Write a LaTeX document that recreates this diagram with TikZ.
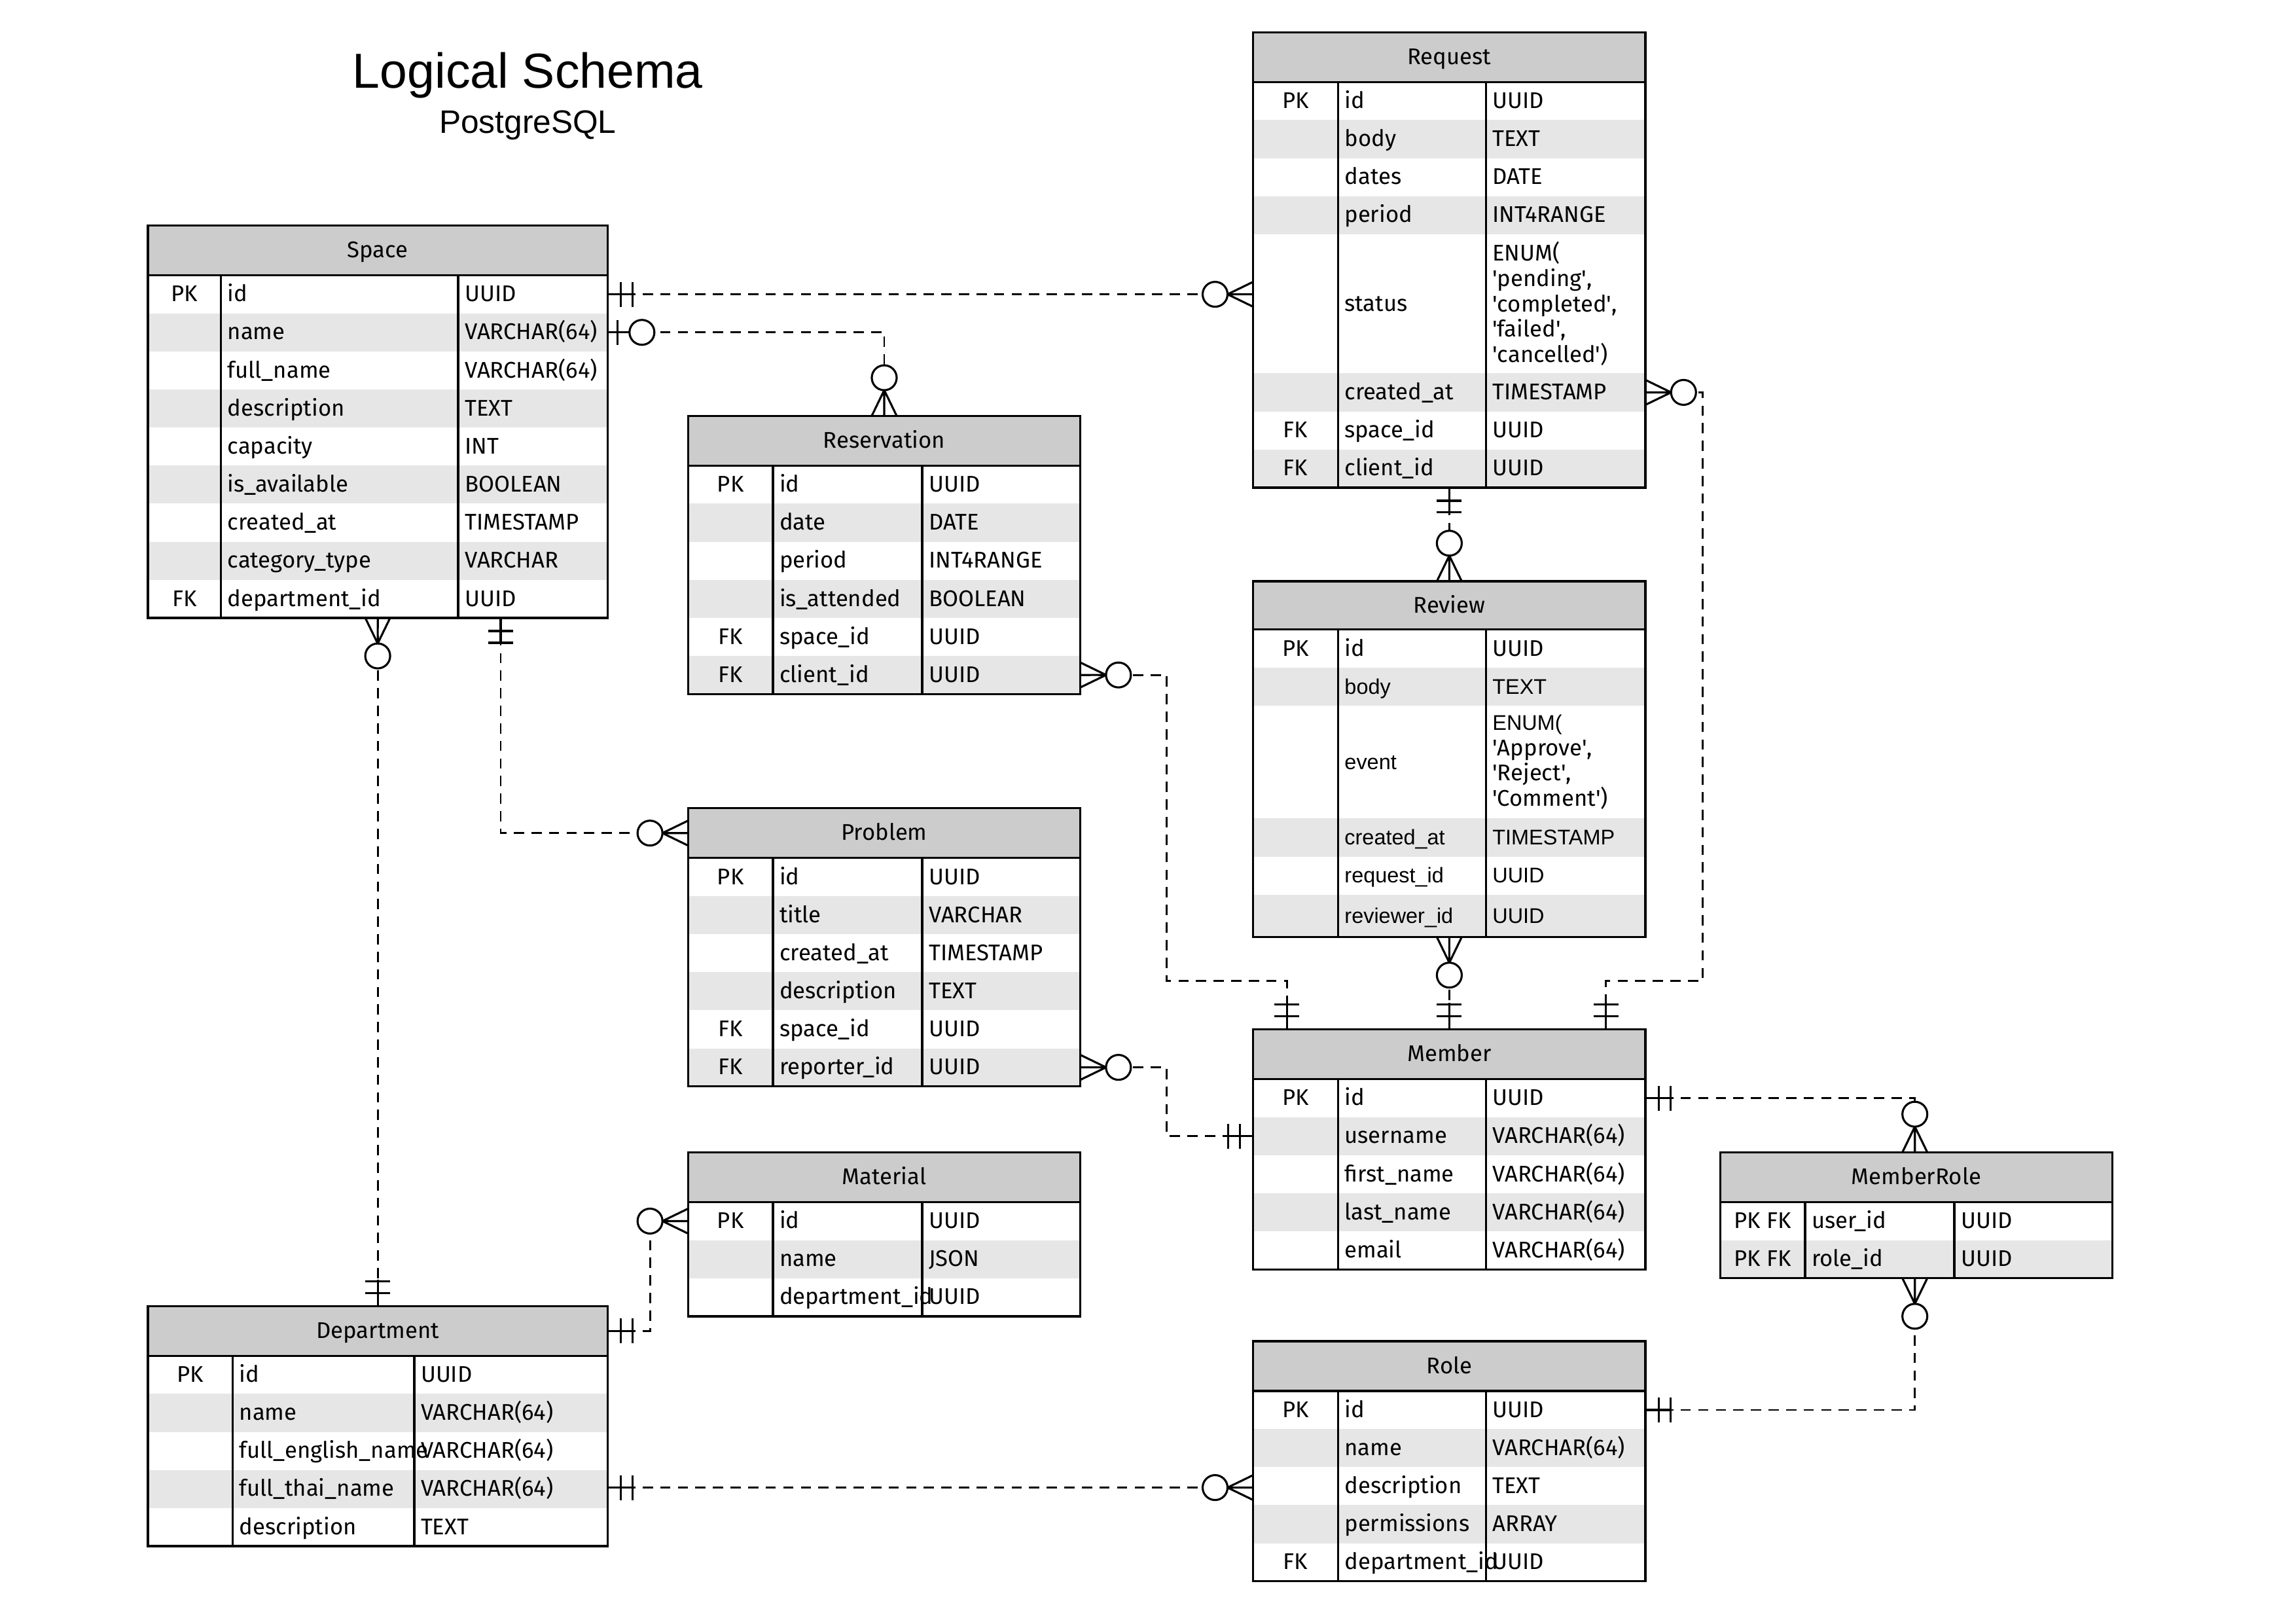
\documentclass[tikz,border=0pt]{standalone}
\usepackage{fontspec}
\setmainfont{Fira Sans}
\newfontfamily\arialfam{Liberation Sans}
\newfontfamily\titlefam{Liberation Sans}
\definecolor{hdrgray}{HTML}{CCCCCC}
\definecolor{rowgray}{HTML}{E6E6E6}
\newcommand\sqt{\textquotesingle}
\newcommand\cellfont{\fontsize{15.5}{17.3}\selectfont}
\newcommand\arialf{\arialfam\fontsize{14.5}{17.3}\selectfont}
\let\rowfont\relax
\newcommand\settable[5]{\def\tA{#1}\def\tB{#2}\def\tC{#3}\def\tD{#4}\def\tP{#5}}
\newcommand\ertitle[3]{%
  \fill[hdrgray] (\tA,#1) rectangle (\tD,#2);
  \node[cell,anchor=base] (\tP-title) at ({(\tA+\tD)/2},{(#1+#2)/2+5}) {#3};}
\newcommand\errow[7]{%
  \fill[#4] (\tA,#2) rectangle (\tD,#3);
  \node[cell,anchor=base] (\tP-#1-k) at ({(\tA+\tB)/2},{(#2+#3)/2+5}) {#5};
  \node[cell,anchor=base west] (\tP-#1-f) at ({\tB+4.5},{(#2+#3)/2+5}) {\rowfont #6};
  \node[cell,anchor=base west] (\tP-#1-t) at ({\tC+4.5},{(#2+#3)/2+5}) {\rowfont #7};}
\newcommand\errowml[6]{%
  \fill[#4] (\tA,#2) rectangle (\tD,#3);
  \node[cell,anchor=base west] (\tP-#1-f) at ({\tB+4.5},{(#2+#3)/2+5}) {\rowfont #5};
  \node[cell,anchor=west,align=left] (\tP-#1-t) at ({\tC+4.5},{(#2+#3)/2}) {\rowfont #6};}
\newcommand\erframe[3]{%
  \draw[tbl] (\tB,#2) -- (\tB,#3) (\tC,#2) -- (\tC,#3) (\tA,#2) -- (\tD,#2);
  \draw[tbl] (\tA,#1) rectangle (\tD,#3);}
\newcommand\mone[2]{%
  \begin{scope}[shift={(#1)},rotate=#2]
    \draw[ermark] (0,0) -- (18,0) (9,-8.5) -- (9,8.5) (17,-8.5) -- (17,8.5);
  \end{scope}}
\newcommand\mzone[2]{%
  \begin{scope}[shift={(#1)},rotate=#2]
    \draw[ermark] (0,0) -- (16,0) (7,-8.5) -- (7,8.5);
    \draw[ermark,fill=white] (23.5,0) circle (8.5pt);
  \end{scope}}
\newcommand\mzmany[2]{%
  \begin{scope}[shift={(#1)},rotate=#2]
    \draw[ermark] (0,-8.5) -- (17.5,0) -- (0,8.5) (0,0) -- (17.5,0);
    \draw[ermark,fill=white] (26,0) circle (8.5pt);
  \end{scope}}
\begin{document}
\begin{tikzpicture}[x=1pt,y=-1pt,
  cell/.style={inner sep=0pt,outer sep=0pt,font=\cellfont},
  tbl/.style={line width=1.5pt,line join=miter},
  conn/.style={line width=1.3pt,dash pattern=on 7pt off 5pt},
  ermark/.style={line width=1.4pt,solid}]
\useasboundingbox (0,0) rectangle (1567,1108.8);
\fill[white] (0,0) rectangle (1567,1108.8);
% title
\node[anchor=base,inner sep=0pt,font=\titlefam\fontsize{33.6}{40}\selectfont] (title) at (360.5,60) {Logical Schema};
\node[anchor=base,inner sep=0pt,font=\titlefam\fontsize{22.2}{26}\selectfont] (subtitle) at (360.5,91) {PostgreSQL};
% Space
\settable{101}{151}{313}{415}{space}
\ertitle{154}{188}{Space}
\errow{id}{188}{214}{white}{PK}{id}{UUID}
\errow{name}{214}{240}{rowgray}{}{name}{VARCHAR(64)}
\errow{fullname}{240}{266}{white}{}{full\_name}{VARCHAR(64)}
\errow{desc}{266}{292}{rowgray}{}{description}{TEXT}
\errow{cap}{292}{318}{white}{}{capacity}{INT}
\errow{avail}{318}{344}{rowgray}{}{is\_available}{BOOLEAN}
\errow{created}{344}{370}{white}{}{created\_at}{TIMESTAMP}
\errow{cat}{370}{396}{rowgray}{}{category\_type}{VARCHAR}
\errow{dept}{396}{422}{white}{FK}{department\_id}{UUID}
\erframe{154}{188}{422}
% Reservation
\settable{470}{528}{630}{738}{resv}
\ertitle{284}{318}{Reservation}
\errow{id}{318}{344}{white}{PK}{id}{UUID}
\errow{date}{344}{370}{rowgray}{}{date}{DATE}
\errow{period}{370}{396}{white}{}{period}{INT4RANGE}
\errow{att}{396}{422}{rowgray}{}{is\_attended}{BOOLEAN}
\errow{space}{422}{448}{white}{FK}{space\_id}{UUID}
\errow{client}{448}{474}{rowgray}{FK}{client\_id}{UUID}
\erframe{284}{318}{474}
% Problem
\settable{470}{528}{630}{738}{prob}
\ertitle{552}{586}{Problem}
\errow{id}{586}{612}{white}{PK}{id}{UUID}
\errow{title}{612}{638}{rowgray}{}{title}{VARCHAR}
\errow{created}{638}{664}{white}{}{created\_at}{TIMESTAMP}
\errow{desc}{664}{690}{rowgray}{}{description}{TEXT}
\errow{space}{690}{716}{white}{FK}{space\_id}{UUID}
\errow{rep}{716}{742}{rowgray}{FK}{reporter\_id}{UUID}
\erframe{552}{586}{742}
% Material
\settable{470}{528}{630}{738}{mat}
\ertitle{787}{821}{Material}
\errow{id}{821}{847}{white}{PK}{id}{UUID}
\errow{name}{847}{873}{rowgray}{}{name}{JSON}
\errow{dept}{873}{899}{white}{}{department\_id}{UUID}
\erframe{787}{821}{899}
% Department
\settable{101}{159}{283}{415}{dept}
\ertitle{892}{926}{Department}
\errow{id}{926}{952}{white}{PK}{id}{UUID}
\errow{name}{952}{978}{rowgray}{}{name}{VARCHAR(64)}
\errow{eng}{978}{1004}{white}{}{full\_english\_name}{VARCHAR(64)}
\errow{thai}{1004}{1030}{rowgray}{}{full\_thai\_name}{VARCHAR(64)}
\errow{desc}{1030}{1056}{white}{}{description}{TEXT}
\erframe{892}{926}{1056}
% Request
\settable{856}{914}{1015}{1124}{req}
\ertitle{22}{56}{Request}
\errow{id}{56}{82}{white}{PK}{id}{UUID}
\errow{body}{82}{108}{rowgray}{}{body}{TEXT}
\errow{dates}{108}{134}{white}{}{dates}{DATE}
\errow{period}{134}{160}{rowgray}{}{period}{INT4RANGE}
\errowml{status}{160}{255}{white}{status}{ENUM(\\\sqt pending\sqt,\\\sqt completed\sqt,\\\sqt failed\sqt,\\\sqt cancelled\sqt)}
\errow{created}{255}{281}{rowgray}{}{created\_at}{TIMESTAMP}
\errow{space}{281}{307}{white}{FK}{space\_id}{UUID}
\errow{client}{307}{333}{rowgray}{FK}{client\_id}{UUID}
\erframe{22}{56}{333}
% Review
\settable{856}{914}{1015}{1124}{rev}
\ertitle{397}{430}{Review}
\errow{id}{430}{456}{white}{PK}{id}{UUID}
\let\rowfont\arialf
\errow{body}{456}{482}{rowgray}{}{body}{TEXT}
\errowml{event}{482}{559}{white}{event}{ENUM(\\\sqt Approve\sqt,\\\sqt Reject\sqt,\\\sqt Comment\sqt)}
\errow{created}{559}{585}{rowgray}{}{created\_at}{TIMESTAMP}
\errow{reqid}{585}{611}{white}{}{request\_id}{UUID}
\errow{revid}{611}{640}{rowgray}{}{reviewer\_id}{UUID}
\let\rowfont\relax
\erframe{397}{430}{640}
% Member
\settable{856}{914}{1015}{1124}{mem}
\ertitle{703}{737}{Member}
\errow{id}{737}{763}{white}{PK}{id}{UUID}
\errow{user}{763}{789}{rowgray}{}{username}{VARCHAR(64)}
\errow{first}{789}{815}{white}{}{first\_name}{VARCHAR(64)}
\errow{last}{815}{841}{rowgray}{}{last\_name}{VARCHAR(64)}
\errow{email}{841}{867}{white}{}{email}{VARCHAR(64)}
\erframe{703}{737}{867}
% Role
\settable{856}{914}{1015}{1124}{role}
\ertitle{916}{950}{Role}
\errow{id}{950}{976}{white}{PK}{id}{UUID}
\errow{name}{976}{1002}{rowgray}{}{name}{VARCHAR(64)}
\errow{desc}{1002}{1028}{white}{}{description}{TEXT}
\errow{perm}{1028}{1054}{rowgray}{}{permissions}{ARRAY}
\errow{dept}{1054}{1080}{white}{FK}{department\_id}{UUID}
\erframe{916}{950}{1080}
% MemberRole
\settable{1175}{1233}{1335}{1443}{mr}
\ertitle{787}{821}{MemberRole}
\errow{user}{821}{847}{white}{PK FK}{user\_id}{UUID}
\errow{role}{847}{873}{rowgray}{PK FK}{role\_id}{UUID}
\erframe{787}{821}{873}
% connector end points
\coordinate (sp-id-r) at (415,201);
\coordinate (rq-status-l) at (856,201);
\coordinate (sp-name-r) at (415,227);
\coordinate (rv-top) at (604,284);
\coordinate (rv-client-r) at (738,461);
\coordinate (mb-top1) at (879,703);
\coordinate (sp-bot1) at (258,422);
\coordinate (dp-top) at (258,892);
\coordinate (sp-bot2) at (342,422);
\coordinate (pb-l) at (470,569);
\coordinate (pb-rep-r) at (738,729);
\coordinate (mb-user-l) at (856,776);
\coordinate (dp-r) at (415,909);
\coordinate (mt-l) at (470,834);
\coordinate (dp-thai-r) at (415,1016);
\coordinate (rl-desc-l) at (856,1016);
\coordinate (rq-bot) at (990,333);
\coordinate (rw-top) at (990,397);
\coordinate (rw-bot) at (990,640);
\coordinate (mb-top2) at (990,703);
\coordinate (rq-cre-r) at (1124,268);
\coordinate (mb-top3) at (1097,703);
\coordinate (mb-id-r) at (1124,750);
\coordinate (mr-top) at (1308,787);
\coordinate (rl-id-r) at (1124,963);
\coordinate (mr-bot) at (1308,873);
% connectors
\draw[conn] (sp-id-r) -- (rq-status-l);
\draw[conn] (sp-name-r) -| (rv-top);
\draw[conn] (rv-client-r) -- (797,461) -- (797,670) -| (mb-top1);
\draw[conn] (sp-bot1) -- (dp-top);
\draw[conn] (sp-bot2) |- (pb-l);
\draw[conn] (pb-rep-r) -- (797,729) |- (mb-user-l);
\draw[conn] (dp-r) -- (444,909) |- (mt-l);
\draw[conn] (dp-thai-r) -- (rl-desc-l);
\draw[conn] (rq-bot) -- (rw-top);
\draw[conn] (rw-bot) -- (mb-top2);
\draw[conn] (rq-cre-r) -- (1163,268) -- (1163,670) -| (mb-top3);
\draw[conn] (mb-id-r) -| (mr-top);
\draw[conn] (rl-id-r) -| (mr-bot);
% cardinality marks
\mone{sp-id-r}{0} \mzmany{rq-status-l}{180}
\mzone{sp-name-r}{0} \mzmany{rv-top}{90}
\mzmany{rv-client-r}{0} \mone{mb-top1}{90}
\mzmany{sp-bot1}{-90} \mone{dp-top}{90}
\mone{sp-bot2}{-90} \mzmany{pb-l}{180}
\mzmany{pb-rep-r}{0} \mone{mb-user-l}{180}
\mone{dp-r}{0} \mzmany{mt-l}{180}
\mone{dp-thai-r}{0} \mzmany{rl-desc-l}{180}
\mone{rq-bot}{-90} \mzmany{rw-top}{90}
\mzmany{rw-bot}{-90} \mone{mb-top2}{90}
\mzmany{rq-cre-r}{0} \mone{mb-top3}{90}
\mone{mb-id-r}{0} \mzmany{mr-top}{90}
\mone{rl-id-r}{0} \mzmany{mr-bot}{-90}
\end{tikzpicture}
\end{document}
